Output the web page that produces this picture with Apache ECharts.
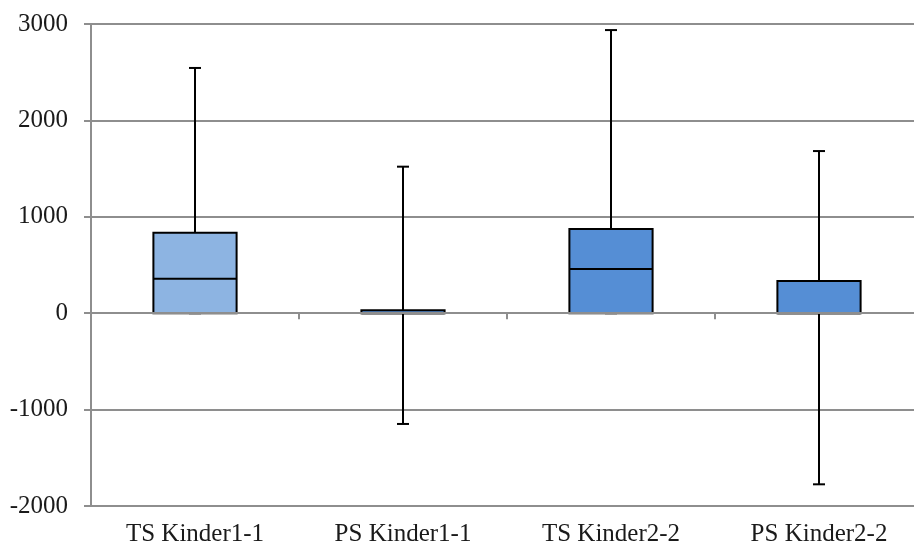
<!DOCTYPE html>
<html>
<head>
<meta charset="utf-8">
<script src="https://cdn.jsdelivr.net/npm/echarts@6/dist/echarts.min.js"></script>
<style>
html,body{margin:0;padding:0;background:#fff;overflow:hidden;}
#chart{width:914px;height:548px;}
</style>
</head>
<body>
<div id="chart"></div>
<script>
const categories = ['TS Kinder1-1', 'PS Kinder1-1', 'TS Kinder2-2', 'PS Kinder2-2'];
const whiskerLow = [0, -1149, 0, -1775];
const boxLow = [0, 0, 0, 0];
const medians = [358, 0, 458, 0];
const boxHigh = [835, 30, 873, 334];
const whiskerHigh = [2544, 1520, 2937, 1682];
const yTickMin = -2000, yTickMax = 3000, yTickStep = 1000;
const boxColors = ['#8DB4E2', '#558ED5', '#558ED5', '#558ED5'];

const FONT = '"Liberation Serif", "DejaVu Serif", serif';
const GRID = '#8e8e8e';

const seriesData = categories.map((c, i) => [i, whiskerLow[i], boxLow[i], medians[i], boxHigh[i], whiskerHigh[i]]);

function renderItem(params, api) {
  const i = api.value(0);
  const x = api.coord([i, 0])[0];
  const yMin = api.coord([i, api.value(1)])[1];
  const yQ1 = api.coord([i, api.value(2)])[1];
  const yMed = api.coord([i, api.value(3)])[1];
  const yQ3 = api.coord([i, api.value(4)])[1];
  const yMax = api.coord([i, api.value(5)])[1];
  const band = api.size([1, 0])[0];
  const hw = band * 0.2;
  const cap = 6;
  const ls = { stroke: '#000', lineWidth: 2 };
  return {
    type: 'group',
    children: [
      { type: 'line', shape: { x1: x, y1: yMax, x2: x, y2: yQ3 }, style: ls },
      { type: 'line', shape: { x1: x - cap, y1: yMax, x2: x + cap, y2: yMax }, style: ls },
      { type: 'line', shape: { x1: x, y1: yQ1, x2: x, y2: yMin }, style: ls },
      { type: 'line', shape: { x1: x - cap, y1: yMin, x2: x + cap, y2: yMin }, style: ls },
      { type: 'rect', shape: { x: x - hw, y: yQ3, width: hw * 2, height: yQ1 - yQ3 },
        style: { fill: boxColors[params.dataIndex], stroke: '#000', lineWidth: 2 } },
      { type: 'line', shape: { x1: x - hw, y1: yMed, x2: x + hw, y2: yMed }, style: ls }
    ]
  };
}

const chart = echarts.init(document.getElementById('chart'));
chart.setOption({
  animation: false,
  backgroundColor: '#fff',
  grid: { left: 91, top: 24, width: 832, height: 482, containLabel: false, outerBoundsMode: 'none', show: false },
  xAxis: [
    {
      type: 'category', data: categories, position: 'bottom',
      axisLine: { show: false, onZero: false },
      axisTick: { show: false },
      axisLabel: { fontFamily: FONT, fontSize: 25, color: '#1a1a1a', margin: 16, interval: 0 },
      splitLine: { show: false }, splitArea: { show: false }
    },
    {
      type: 'category', data: categories, position: 'bottom', z: 10,
      axisLine: { show: true, onZero: true, lineStyle: { color: GRID, width: 2 } },
      axisTick: { show: true, length: 6, lineStyle: { color: GRID, width: 2 } },
      axisLabel: { show: false },
      splitLine: { show: false }, splitArea: { show: false }
    }
  ],
  yAxis: {
    type: 'value', min: yTickMin, max: yTickMax, interval: yTickStep,
    axisLine: { show: true, lineStyle: { color: GRID, width: 2 } },
    axisTick: { show: true, length: 7, lineStyle: { color: GRID, width: 2 } },
    axisLabel: { fontFamily: FONT, fontSize: 25, color: '#1a1a1a', margin: 23,
      formatter: v => String(v) },
    splitLine: { show: true, lineStyle: { color: GRID, width: 2 } }
  },
  series: [{
    type: 'custom',
    xAxisIndex: 0,
    renderItem: renderItem,
    encode: { x: 0, y: [1, 2, 3, 4, 5] },
    data: seriesData,
    z: 3
  }]
});
</script>
</body>
</html>
